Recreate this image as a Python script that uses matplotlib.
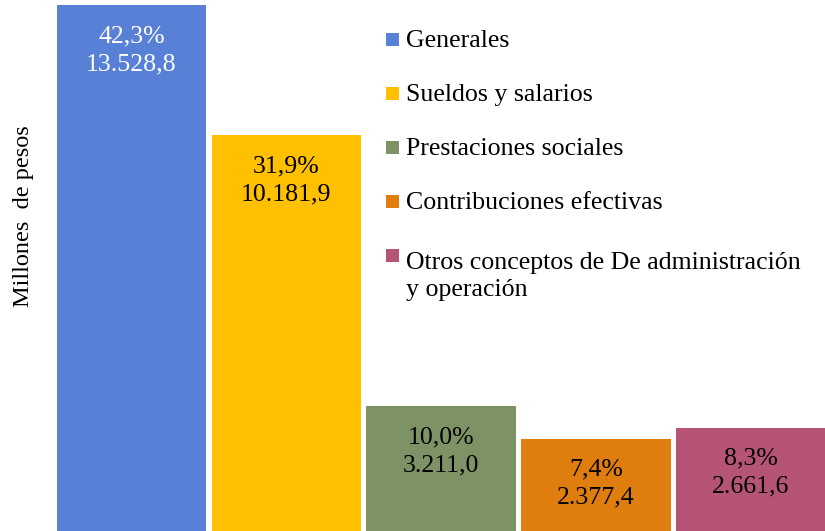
import numpy as np
import matplotlib.pyplot as plt
from matplotlib.patches import Rectangle

plt.rcParams['font.family'] = ['Liberation Serif', 'DejaVu Serif']

# data
categorias = ['Generales', 'Sueldos y salarios', 'Prestaciones sociales',
              'Contribuciones efectivas',
              'Otros conceptos de De administración\ny operación']
valores = [13528.8, 10181.9, 3211.0, 2377.4, 2661.6]
porcentajes = ['42,3%', '31,9%', '10,0%', '7,4%', '8,3%']
etiquetas = ['13.528,8', '10.181,9', '3.211,0', '2.377,4', '2.661,6']
colores = ['#5880D7', '#FFC000', '#7D9366', '#DF7E0E', '#B55475']
color_texto = ['white', 'black', 'black', 'black', 'black']

fs = 18.6

fig = plt.figure(figsize=(8.25, 5.31), dpi=100)
ax = fig.add_axes([0.0656, 0.0, 0.9379, 1.0])

x = np.arange(len(valores))
bars = ax.bar(x, valores, width=0.966, color=colores, linewidth=0)
ax.set_xlim(-0.5, 4.5)
ax.set_ylim(0, 13660)
ax.axis('off')

# labels inside the bars, near the top
for b, p, e, c in zip(bars, porcentajes, etiquetas, color_texto):
    ax.annotate(p + '\n' + e, (b.get_x() + b.get_width() / 2, b.get_height()),
                xytext=(0, -32.5), textcoords='offset points',
                ha='center', va='center', fontsize=fs, color=c,
                linespacing=1.35)

# y label
fig.text(0.029, 1 - 216 / 531, 'Millones  de pesos', rotation=90,
         ha='center', va='center', fontsize=17.5)

# legend drawn by hand so the wrapped entry keeps its square on the first line
W, H = 825, 531
for i, (nombre, col) in enumerate(zip(categorias, colores)):
    base = 47 + 54 * i
    extra = 33 * nombre.count('\n')   # baseline goes on the last line
    fig.add_artist(Rectangle((386 / W, 1 - (base - 1) / H), 13 / W, 13 / H,
                             transform=fig.transFigure, color=col, lw=0))
    fig.text(406 / W, 1 - (base + extra) / H, nombre, ha='left', va='baseline',
             fontsize=fs, linespacing=1.3)

fig.savefig('out.png', dpi=100)
